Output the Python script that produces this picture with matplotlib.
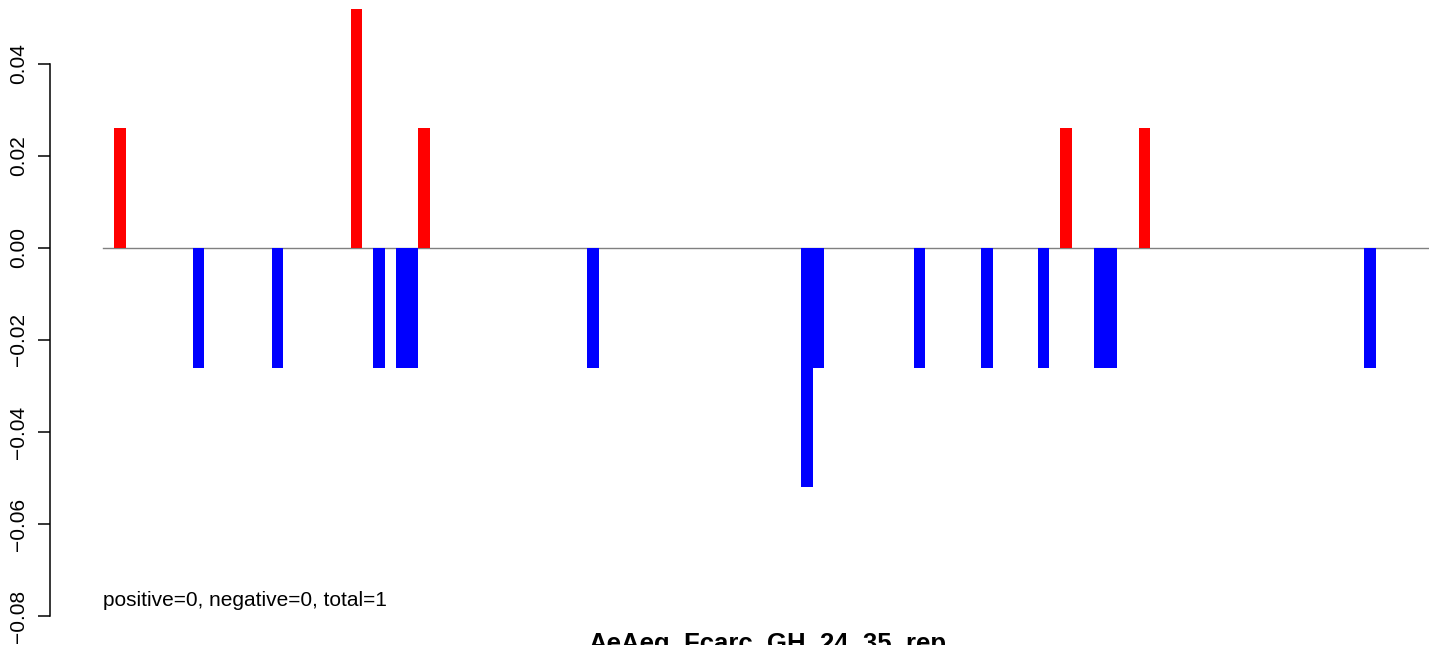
import numpy as np
import matplotlib
matplotlib.use('Agg')
import matplotlib.pyplot as plt

plt.rcParams['font.family'] = ['Liberation Sans', 'DejaVu Sans']

# barplot data: 118 slots, only a few are non-zero
n_bars = 118
bar_index = [1, 8, 15, 22, 24, 26, 27, 28, 43, 62, 63, 72, 78, 83, 85, 88, 89, 92, 112]
bar_value = [0.026, -0.026, -0.026, 0.052, -0.026, -0.026, -0.026, 0.026, -0.026,
             -0.052, -0.026, -0.026, -0.026, -0.026, 0.026, -0.026, -0.026, 0.026, -0.026]
y_ticks = [-0.08, -0.06, -0.04, -0.02, 0.00, 0.02, 0.04]
note = 'positive=0, negative=0, total=1'
title = 'AeAeg_Fcarc_GH_24_35_rep'

W, H = 1429, 645
fig = plt.figure(figsize=(W / 100, H / 100), dpi=100)

# plot region in pixels (R style, right part cropped off)
left_px, right_px = 50, 1485
ax = fig.add_axes([left_px / W, 0, (right_px - left_px) / W, 1])
ax.set_xlim(-0.04 * n_bars, n_bars * 1.04)
ax.set_ylim(-(H - 248) / 4600, 248 / 4600)

colors = ['red' if v > 0 else 'blue' for v in bar_value]
x = np.array(bar_index) + 0.5
ax.plot([0, n_bars], [0, 0], color='#808080', lw=1, zorder=1, clip_on=False)
ax.bar(x, bar_value, width=1, color=colors, linewidth=0, zorder=2, clip_on=False)

for s in ['top', 'right', 'bottom']:
    ax.spines[s].set_visible(False)
ax.spines['left'].set_bounds(-0.08, 0.04)
ax.spines['left'].set_linewidth(1.1)
ax.set_xticks([])
ax.set_yticks(y_ticks)
labels = [('%.2f' % t).replace('-', '\u2212') for t in y_ticks]
ax.set_yticklabels(labels, rotation=90, va='center', fontsize=15)
ax.tick_params(axis='y', length=8.6, width=1.1, pad=7)

ax.text(0, -0.0767, note, fontsize=15, ha='left', va='center')
fig.text(767 / W, (H - 651) / H, title, fontsize=18.5, fontweight='bold',
         ha='center', va='baseline')

fig.savefig('out.png', dpi=100)
